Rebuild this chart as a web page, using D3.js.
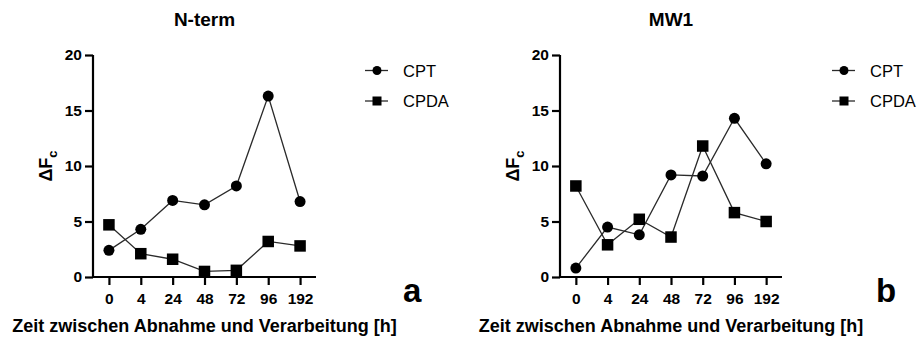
<!DOCTYPE html>
<html>
<head>
<meta charset="utf-8">
<script src="https://cdn.jsdelivr.net/npm/d3@7"></script>
<style>
  html, body { margin: 0; padding: 0; background: #fff; }
  svg { display: block; }
  text { font-family: "Liberation Sans", Arial, sans-serif; fill: #000; }
</style>
</head>
<body>
<svg id="chart" width="921" height="338"></svg>
<script>
// Time points (h) after blood draw
const timepoints = ["0", "4", "24", "48", "72", "96", "192"];
const yTicks = [0, 5, 10, 15, 20];

// ΔFc per tube type, N-term peptide
const ntermCPT  = [2.4, 4.3, 6.9, 6.5, 8.2, 16.3, 6.8];
const ntermCPDA = [4.7, 2.1, 1.6, 0.5, 0.6, 3.2, 2.8];

// ΔFc per tube type, MW1 peptide
const mw1CPT  = [0.8, 4.5, 3.8, 9.2, 9.1, 14.3, 10.2];
const mw1CPDA = [8.2, 2.9, 5.2, 3.6, 11.8, 5.8, 5.0];

const seriesNames = ["CPT", "CPDA"];

const svg = d3.select("#chart");

function drawPanel(cfg) {
  const { left, right, top, bottom, title, cpt, cpda, letter, legendX, letterX } = cfg;

  const x = d3.scalePoint().domain(timepoints).range([left, right]).padding(0.5);
  const y = d3.scaleLinear().domain([0, 20]).range([bottom, top]);

  const g = svg.append("g");

  // title
  g.append("text")
    .attr("x", (left + right) / 2).attr("y", 26)
    .attr("text-anchor", "middle")
    .style("font-size", "19px").style("font-weight", "bold")
    .text(title);

  // y axis
  const yAxis = g.append("g")
    .attr("transform", `translate(${left},0)`)
    .call(d3.axisLeft(y).tickValues(yTicks).tickSize(8).tickPadding(3).tickSizeOuter(0));
  // x axis
  const xAxis = g.append("g")
    .attr("transform", `translate(0,${bottom})`)
    .call(d3.axisBottom(x).tickSize(8).tickPadding(8).tickSizeOuter(0));

  [yAxis, xAxis].forEach(ax => {
    ax.select(".domain").attr("stroke", "#000").attr("stroke-width", 2.2);
    ax.selectAll(".tick line").attr("stroke", "#000").attr("stroke-width", 2.2);
    ax.selectAll(".tick text")
      .style("font-size", "15.5px").style("font-weight", "bold")
      .style("font-family", '"Liberation Sans", Arial, sans-serif')
      .attr("fill", "#000");
  });
  // axis lines meet at the corner
  xAxis.select(".domain").attr("d", `M${left - 1},0H${right}`);
  yAxis.select(".domain").attr("d", `M0,${top}V${bottom + 1}`);

  // y axis label ΔFc
  const yl = g.append("text")
    .attr("transform", `translate(${left - 41},${(top + bottom) / 2}) rotate(-90)`)
    .attr("text-anchor", "middle")
    .style("font-size", "18px").style("font-weight", "bold");
  yl.append("tspan").text("ΔF");
  yl.append("tspan").attr("dy", 5).style("font-size", "13px").text("c");

  // x axis label
  g.append("text")
    .attr("x", (left + right) / 2).attr("y", 332)
    .attr("text-anchor", "middle")
    .style("font-size", "18px").style("font-weight", "bold")
    .text("Zeit zwischen Abnahme und Verarbeitung [h]");

  const line = d3.line().x((d, i) => x(timepoints[i])).y(d => y(d));

  // series lines
  [cpt, cpda].forEach(vals => {
    g.append("path")
      .datum(vals)
      .attr("d", line)
      .attr("fill", "none")
      .attr("stroke", "#2a2a2a")
      .attr("stroke-width", 1.3);
  });

  // CPT markers: circles
  g.selectAll(".cpt").data(cpt).join("circle")
    .attr("cx", (d, i) => x(timepoints[i]))
    .attr("cy", d => y(d))
    .attr("r", 5.5)
    .attr("fill", "#000");

  // CPDA markers: squares
  const s = 11.5;
  g.selectAll(".cpda").data(cpda).join("rect")
    .attr("x", (d, i) => x(timepoints[i]) - s / 2)
    .attr("y", d => y(d) - s / 2)
    .attr("width", s).attr("height", s)
    .attr("fill", "#000");

  // legend
  const rows = [70.5, 101];
  seriesNames.forEach((name, k) => {
    const ly = rows[k];
    g.append("line")
      .attr("x1", legendX).attr("x2", legendX + 23)
      .attr("y1", ly).attr("y2", ly)
      .attr("stroke", "#2a2a2a").attr("stroke-width", 1.3);
    if (k === 0) {
      g.append("circle").attr("cx", legendX + 12).attr("cy", ly).attr("r", 4.5).attr("fill", "#000");
    } else {
      g.append("rect").attr("x", legendX + 12 - 4.5).attr("y", ly - 4.5)
        .attr("width", 9).attr("height", 9).attr("fill", "#000");
    }
    g.append("text")
      .attr("x", legendX + 38).attr("y", ly + 6)
      .style("font-size", "16.5px")
      .text(name);
  });

  // panel letter
  g.append("text")
    .attr("x", letterX).attr("y", 302)
    .style("font-size", "33px").style("font-weight", "bold")
    .text(letter);
}

drawPanel({
  left: 93, right: 316, top: 55, bottom: 277,
  title: "N-term", cpt: ntermCPT, cpda: ntermCPDA,
  letter: "a", legendX: 365, letterX: 403
});

drawPanel({
  left: 560, right: 782, top: 55, bottom: 277,
  title: "MW1", cpt: mw1CPT, cpda: mw1CPDA,
  letter: "b", legendX: 832, letterX: 876
});
</script>
</body>
</html>
